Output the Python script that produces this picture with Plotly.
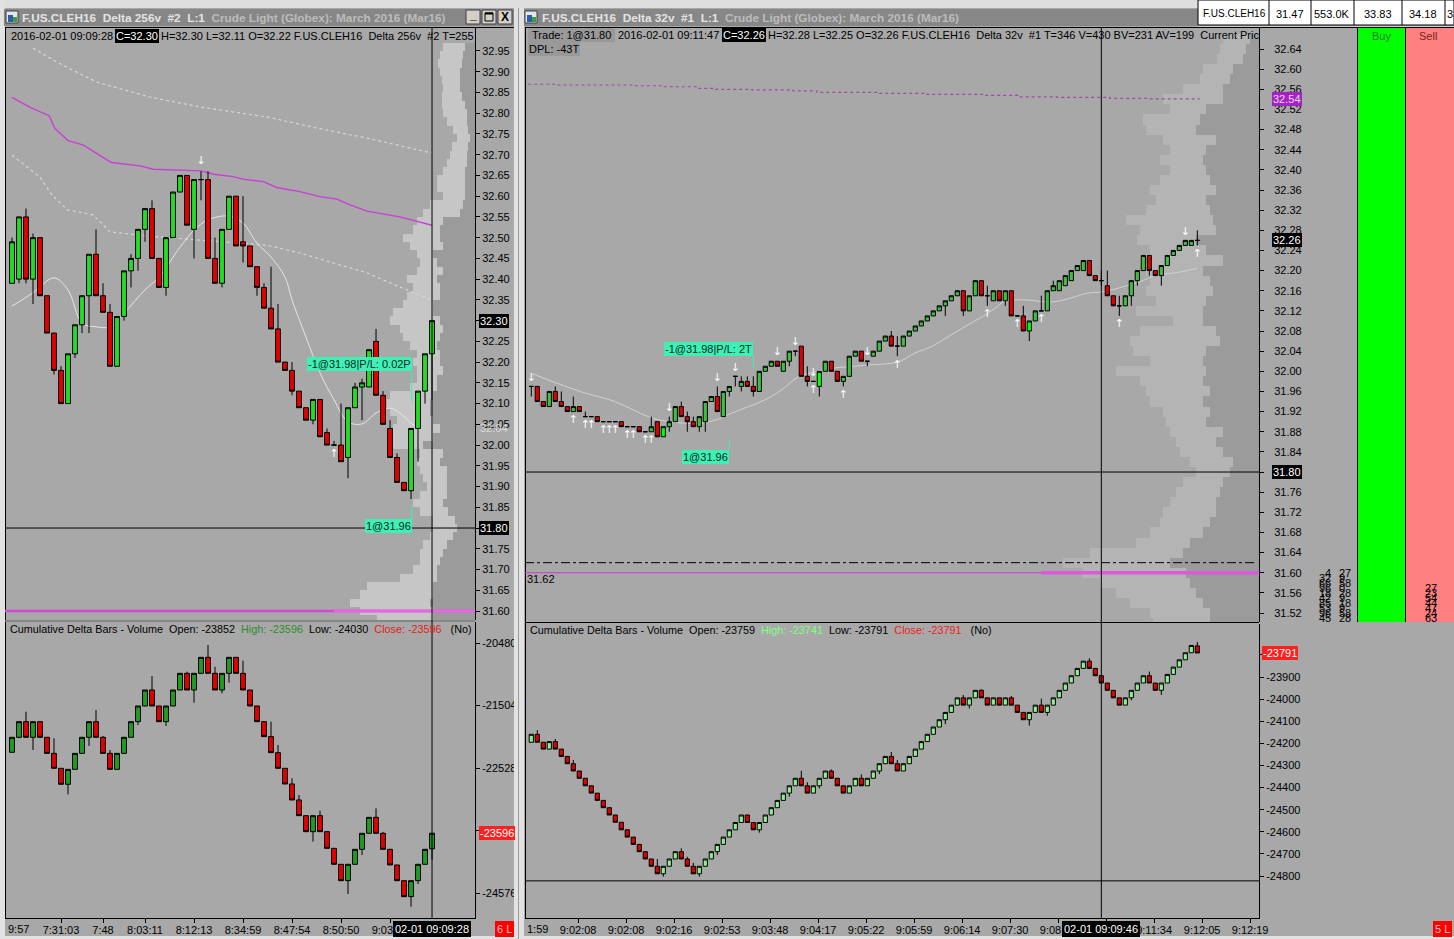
import plotly.graph_objects as go

W, H = 1454, 939          # page design grid (pixels of the reference)
FIG_W = 1463              # figure width; the viewer maps it onto the 1454-px page
FONT = "Liberation Sans, Arial, sans-serif"
ARROW_FONT = "DejaVu Sans"

# ======================= DATA =======================
# ---- Left window: F.US.CLEH16 Delta 256v, price candles ----
l_open = [32.39, 32.40, 32.55, 32.40, 32.50, 32.36, 32.27, 32.18, 32.10, 32.22,
          32.29, 32.36, 32.46, 32.36, 32.32, 32.19, 32.31, 32.42, 32.45, 32.52,
          32.57, 32.45, 32.38, 32.50, 32.61, 32.65, 32.52, 32.64, 32.64, 32.45,
          32.39, 32.52, 32.60, 32.49, 32.48, 32.43, 32.38, 32.33, 32.28, 32.20,
          32.18, 32.13, 32.09, 32.06, 32.11, 32.03, 32.00, 32.00, 31.97, 32.09,
          32.14, 32.14, 32.25, 32.12, 32.04, 31.97, 31.91, 31.89, 32.04, 32.13,
          32.22]
l_high = [32.50, 32.55, 32.57, 32.51, 32.50, 32.36, 32.27, 32.19, 32.22, 32.29,
          32.36, 32.46, 32.52, 32.39, 32.34, 32.31, 32.42, 32.46, 32.52, 32.57,
          32.59, 32.45, 32.50, 32.61, 32.65, 32.65, 32.64, 32.66, 32.66, 32.50,
          32.52, 32.60, 32.60, 32.60, 32.48, 32.43, 32.39, 32.43, 32.34, 32.20,
          32.20, 32.13, 32.09, 32.11, 32.11, 32.04, 32.01, 32.10, 32.09, 32.15,
          32.16, 32.23, 32.28, 32.13, 32.06, 31.98, 31.91, 32.04, 32.13, 32.22,
          32.30]
l_low = [32.39, 32.39, 32.39, 32.34, 32.36, 32.27, 32.17, 32.10, 32.10, 32.21,
         32.27, 32.27, 32.36, 32.32, 32.19, 32.19, 32.30, 32.38, 32.42, 32.49,
         32.45, 32.38, 32.36, 32.50, 32.61, 32.53, 32.45, 32.59, 32.45, 32.39,
         32.38, 32.52, 32.48, 32.44, 32.43, 32.36, 32.33, 32.28, 32.20, 32.18,
         32.12, 32.09, 32.06, 32.05, 32.02, 32.00, 32.00, 31.96, 31.92, 32.09,
         32.06, 32.14, 32.12, 32.05, 31.97, 31.91, 31.89, 31.87, 31.96, 32.10,
         32.11]
l_close = [32.49, 32.55, 32.40, 32.50, 32.36, 32.27, 32.18, 32.10, 32.22, 32.29,
           32.36, 32.46, 32.36, 32.32, 32.19, 32.31, 32.42, 32.45, 32.52, 32.57,
           32.45, 32.38, 32.50, 32.61, 32.65, 32.53, 32.64, 32.64, 32.45, 32.39,
           32.52, 32.60, 32.48, 32.48, 32.43, 32.38, 32.33, 32.28, 32.20, 32.18,
           32.13, 32.09, 32.06, 32.11, 32.02, 32.00, 32.00, 31.96, 32.09, 32.14,
           32.15, 32.23, 32.12, 32.05, 31.97, 31.91, 31.89, 32.04, 32.13, 32.22,
           32.30]

# VWAP (magenta), moving average (white), std-dev bands (dotted)
l_vwap_idx = [0, 2.6, 5.3, 6.1, 8, 10.2, 14.2, 18.3, 20.2, 27, 28.8, 31.6, 33, 35.9,
              37.8, 41.1, 44, 46.4, 48.3, 50.7, 55.4, 57.3, 60]
l_vwap = [32.838, 32.814, 32.794, 32.764, 32.734, 32.723, 32.681, 32.673, 32.665,
          32.661, 32.653, 32.647, 32.641, 32.635, 32.621, 32.611, 32.599, 32.593,
          32.579, 32.564, 32.550, 32.541, 32.530]
l_ma_idx = [0, 3, 6, 8, 10, 12, 14, 16, 19, 21, 24, 26, 28, 31, 33, 35, 37, 39, 40,
            42, 44, 46, 48, 50, 52, 54, 55.4, 57, 58]
l_ma = [32.335, 32.367, 32.403, 32.374, 32.294, 32.285, 32.285, 32.318, 32.374,
        32.405, 32.477, 32.518, 32.543, 32.552, 32.535, 32.487, 32.453, 32.405,
        32.350, 32.260, 32.174, 32.109, 32.056, 32.051, 32.077, 32.089, 32.077,
        32.053, 32.041]
l_band_up_idx = [3, 6.4, 12.1, 19.7, 26.9, 36.4, 43.6, 50.7, 60]
l_band_up = [32.957, 32.923, 32.875, 32.839, 32.815, 32.791, 32.764, 32.740, 32.704]
l_band_dn_idx = [0, 4, 5.7, 7.9, 11.6, 14, 18.3, 20.7, 36.4, 41.1, 45.9, 50.7, 55.4, 60]
l_band_dn = [32.699, 32.646, 32.603, 32.567, 32.555, 32.514, 32.506, 32.502, 32.482,
             32.463, 32.439, 32.415, 32.381, 32.350]
l_down_idx = [27]
l_up_idx = [46]
l_hline = 31.80
l_magenta = 31.60

# Left volume profile (price level, total, inner)
l_prof_price = [31.58, 31.60, 31.62, 31.64, 31.66, 31.68, 31.70, 31.72, 31.74, 31.76,
                31.78, 31.80, 31.82, 31.84, 31.86, 31.88, 31.90, 31.92, 31.94, 31.96,
                31.98, 32.00, 32.02, 32.04, 32.06, 32.08, 32.10, 32.12, 32.14, 32.16,
                32.18, 32.20, 32.22, 32.24, 32.26, 32.28, 32.30, 32.32, 32.34, 32.36,
                32.38, 32.40, 32.42, 32.44, 32.46, 32.48, 32.50, 32.52, 32.54, 32.56,
                32.58, 32.60, 32.62, 32.64, 32.66, 32.68, 32.70, 32.72, 32.74, 32.76,
                32.78, 32.80, 32.82, 32.84, 32.86, 32.88, 32.90, 32.92, 32.94, 32.96,
                32.98]
l_prof_total = [98, 115, 125, 115, 108, 75, 62, 55, 55, 52,
                45, 42, 42, 55, 62, 55, 48, 52, 55, 58,
                55, 85, 88, 82, 78, 85, 88, 85, 65, 58,
                58, 62, 58, 65, 72, 75, 85, 82, 72, 68,
                62, 68, 58, 55, 58, 65, 72, 62, 58, 52,
                45, 32, 38, 38, 32, 28, 25, 23, 18, 22,
                28, 32, 33, 33, 32, 33, 35, 37, 35, 32,
                0]
l_prof_inner = [42, 42, 45, 42, 42, 38, 38, 35, 32, 28,
                22, 18, 20, 27, 32, 28, 28, 28, 28, 35,
                32, 52, 42, 35, 42, 45, 45, 42, 38, 38,
                32, 35, 35, 38, 35, 32, 35, 42, 42, 35,
                35, 38, 32, 38, 42, 32, 35, 35, 32, 15,
                12, 10, 10, 10, 10, 8, 8, 7, 5, 7,
                8, 8, 10, 13, 15, 15, 15, 13, 12, 10,
                0]

# ---- Left cumulative delta bars ----
ld_open = [-22271, -22025, -21769, -22025, -21769, -22025, -22288, -22533, -22795, -22550,
           -22288, -22025, -21769, -22025, -22288, -22550, -22288, -22025, -21769, -21512,
           -21250, -21512, -21769, -21512, -21250, -20977, -21250, -20977, -20715, -20977,
           -21250, -20977, -20715, -20977, -21250, -21512, -21769, -22014, -22277, -22533,
           -22790, -23052, -23309, -23571, -23309, -23571, -23844, -24106, -24374, -24106,
           -23860, -23598, -23336, -23598, -23860, -24117, -24374, -24636, -24374, -24106,
           -23852]
ld_high = [-22025, -21769, -21605, -21769, -21769, -22025, -22042, -22533, -22550, -22288,
           -22025, -21769, -21578, -22004, -22233, -22288, -22025, -21769, -21512, -21250,
           -21021, -21512, -21512, -21250, -20977, -20950, -20977, -20715, -20513, -20868,
           -20977, -20715, -20715, -20770, -21250, -21512, -21769, -21769, -22151, -22533,
           -22697, -22970, -23309, -23309, -23227, -23571, -23844, -24106, -24106, -23860,
           -23598, -23336, -23189, -23576, -23860, -24117, -24374, -24374, -24106, -23860,
           -23596]
ld_low = [-22271, -22040, -22025, -22233, -22025, -22288, -22533, -22795, -22959, -22550,
          -22288, -22166, -22025, -22288, -22550, -22550, -22288, -22025, -21823, -21512,
          -21512, -21769, -21840, -21512, -21250, -21250, -21458, -20977, -20977, -21250,
          -21305, -21130, -20977, -21250, -21512, -21769, -22014, -22277, -22533, -22790,
          -23052, -23309, -23571, -23735, -23571, -23844, -24106, -24374, -24592, -24106,
          -23953, -23598, -23598, -23860, -24117, -24374, -24636, -24800, -24429, -24106,
          -24030]
ld_close = [-22025, -21769, -22025, -21769, -22025, -22288, -22533, -22795, -22550, -22288,
            -22025, -21769, -22025, -22288, -22550, -22288, -22025, -21769, -21512, -21250,
            -21512, -21769, -21512, -21250, -20977, -21250, -20977, -20715, -20977, -21250,
            -20977, -20715, -20977, -21250, -21512, -21769, -22014, -22277, -22533, -22790,
            -23052, -23309, -23571, -23309, -23571, -23844, -24106, -24374, -24106, -23860,
            -23598, -23336, -23598, -23860, -24117, -24374, -24636, -24374, -24106, -23860,
            -23596]

l_price_ticks = [31.60, 31.65, 31.70, 31.75, 31.80, 31.85, 31.90, 31.95, 32.00, 32.05,
                 32.10, 32.15, 32.20, 32.25, 32.30, 32.35, 32.40, 32.45, 32.50, 32.55,
                 32.60, 32.65, 32.70, 32.75, 32.80, 32.85, 32.90, 32.95]
ld_ticks = [-20480, -21504, -22528, -23552, -24576]
l_time_pos = [7, 13, 19, 26, 33, 40, 47, 54]
l_time_lbl = ["7:31:03", "7:48", "8:03:11", "8:12:13", "8:34:59", "8:47:54", "8:50:50", "9:03:27"]

# ---- Right window: F.US.CLEH16 Delta 32v, price candles ----
r_open = [31.97, 31.97, 31.94, 31.93, 31.96, 31.94, 31.93, 31.92, 31.93, 31.91,
          31.91, 31.91, 31.90, 31.90, 31.90, 31.90, 31.89, 31.89, 31.89, 31.88,
          31.88, 31.90, 31.87, 31.89, 31.90, 31.93, 31.91, 31.90, 31.89, 31.90,
          31.94, 31.95, 31.91, 31.96, 31.99, 31.97, 31.98, 31.97, 31.96, 32.00,
          32.01, 32.02, 32.00, 32.02, 32.04, 32.05, 31.99, 31.98, 31.97, 32.00,
          32.02, 32.00, 31.98, 31.99, 32.03, 32.04, 32.02, 32.03, 32.04, 32.06,
          32.07, 32.05, 32.05, 32.07, 32.08, 32.09, 32.10, 32.11, 32.12, 32.13,
          32.14, 32.15, 32.16, 32.12, 32.15, 32.18, 32.15, 32.14, 32.16, 32.14,
          32.16, 32.11, 32.11, 32.08, 32.10, 32.12, 32.12, 32.16, 32.16, 32.17,
          32.18, 32.20, 32.20, 32.22, 32.19, 32.18, 32.17, 32.15, 32.13, 32.13,
          32.15, 32.18, 32.20, 32.23, 32.20, 32.19, 32.21, 32.23, 32.24, 32.25,
          32.25, 32.26]
r_high = [31.97, 31.97, 31.94, 31.96, 31.97, 31.96, 31.93, 31.95, 31.93, 31.92,
          31.91, 31.91, 31.90, 31.90, 31.90, 31.90, 31.89, 31.89, 31.89, 31.88,
          31.91, 31.90, 31.89, 31.91, 31.93, 31.94, 31.92, 31.91, 31.91, 31.94,
          31.95, 31.97, 31.96, 31.97, 31.99, 31.99, 31.99, 31.99, 32.00, 32.01,
          32.02, 32.02, 32.02, 32.04, 32.04, 32.05, 32.01, 31.98, 32.00, 32.02,
          32.02, 32.00, 31.99, 32.03, 32.04, 32.04, 32.02, 32.04, 32.06, 32.07,
          32.08, 32.07, 32.07, 32.08, 32.09, 32.10, 32.11, 32.12, 32.13, 32.14,
          32.15, 32.16, 32.16, 32.15, 32.18, 32.18, 32.17, 32.16, 32.16, 32.16,
          32.16, 32.11, 32.13, 32.10, 32.12, 32.15, 32.16, 32.18, 32.18, 32.19,
          32.20, 32.21, 32.22, 32.22, 32.19, 32.20, 32.20, 32.15, 32.15, 32.15,
          32.18, 32.20, 32.23, 32.23, 32.20, 32.21, 32.23, 32.24, 32.25, 32.26,
          32.26, 32.28]
r_low = [31.95, 31.94, 31.93, 31.93, 31.94, 31.93, 31.92, 31.92, 31.92, 31.91,
         31.91, 31.90, 31.90, 31.90, 31.90, 31.89, 31.89, 31.89, 31.88, 31.88,
         31.88, 31.87, 31.87, 31.88, 31.90, 31.91, 31.88, 31.89, 31.88, 31.88,
         31.94, 31.92, 31.91, 31.95, 31.97, 31.96, 31.97, 31.95, 31.96, 32.00,
         32.01, 32.01, 32.00, 32.01, 32.03, 31.99, 31.97, 31.98, 31.95, 32.00,
         32.00, 31.98, 31.97, 31.99, 32.03, 32.02, 32.01, 32.03, 32.04, 32.06,
         32.05, 32.03, 32.05, 32.07, 32.08, 32.09, 32.10, 32.11, 32.12, 32.11,
         32.14, 32.15, 32.11, 32.12, 32.15, 32.15, 32.13, 32.14, 32.14, 32.13,
         32.11, 32.11, 32.08, 32.06, 32.10, 32.12, 32.12, 32.16, 32.16, 32.17,
         32.18, 32.20, 32.20, 32.19, 32.18, 32.17, 32.15, 32.13, 32.11, 32.13,
         32.13, 32.17, 32.20, 32.19, 32.19, 32.17, 32.21, 32.23, 32.24, 32.25,
         32.25, 32.25]
r_close = [31.97, 31.94, 31.93, 31.96, 31.94, 31.93, 31.92, 31.93, 31.92, 31.91,
           31.91, 31.90, 31.90, 31.90, 31.90, 31.89, 31.89, 31.89, 31.88, 31.88,
           31.89, 31.87, 31.89, 31.90, 31.93, 31.91, 31.90, 31.89, 31.91, 31.94,
           31.95, 31.92, 31.96, 31.97, 31.99, 31.98, 31.97, 31.96, 32.00, 32.01,
           32.02, 32.01, 32.02, 32.04, 32.04, 31.99, 31.98, 31.98, 32.00, 32.02,
           32.00, 31.98, 31.99, 32.03, 32.04, 32.02, 32.02, 32.04, 32.06, 32.07,
           32.05, 32.05, 32.07, 32.08, 32.09, 32.10, 32.11, 32.12, 32.13, 32.14,
           32.15, 32.16, 32.12, 32.15, 32.18, 32.15, 32.15, 32.16, 32.14, 32.16,
           32.11, 32.11, 32.08, 32.10, 32.12, 32.12, 32.16, 32.17, 32.18, 32.19,
           32.20, 32.21, 32.22, 32.19, 32.18, 32.18, 32.15, 32.13, 32.13, 32.15,
           32.18, 32.20, 32.23, 32.20, 32.19, 32.21, 32.23, 32.24, 32.25, 32.26,
           32.26, 32.26]
r_bright_idx = [22, 48, 83]

r_ma_idx = [0, 2.8, 8.4, 13.9, 19.5, 22.8, 27.8, 30.6, 33.4, 36.2, 38.9, 41.7, 44.5,
            47.3, 50.1, 52.8, 55.6, 61.2, 63.9, 66.7, 69.5, 72.3, 75.1, 77.3, 78.7,
            81.4, 87, 89.8, 92.6, 95.3, 101.4, 104.2, 107, 110.9]
r_ma = [31.996, 31.983, 31.959, 31.940, 31.910, 31.900, 31.897, 31.903, 31.917,
        31.930, 31.943, 31.963, 31.989, 31.999, 32.006, 32.009, 32.012, 32.019,
        32.036, 32.049, 32.069, 32.089, 32.108, 32.125, 32.138, 32.142, 32.138,
        32.145, 32.155, 32.158, 32.178, 32.191, 32.195, 32.204]
r_vwap_idx = [-0.5, 4.5, 17.3, 21.8, 27.6, 30.6, 36.4, 43.6, 47.6, 57.6, 65.6, 75.6,
              81.5, 87.6, 96.4, 102.6, 111.4]
r_vwap = [32.570, 32.5685, 32.567, 32.565, 32.562, 32.560, 32.559, 32.557, 32.554,
          32.552, 32.550, 32.548, 32.545, 32.544, 32.542, 32.541, 32.541]
r_down_idx = [0, 23, 31, 34, 41, 44, 47, 56, 109]
r_up_idx = [7, 9, 10, 12, 13, 14, 16, 17, 19, 20, 47, 52, 61, 76, 81, 85, 98, 111]
r_hline = 31.80
r_dashdot = 31.62
r_magenta = 31.60

# Right volume profile
r_prof_price = [31.50, 31.52, 31.54, 31.56, 31.58, 31.60, 31.62, 31.64, 31.66, 31.68,
                31.70, 31.72, 31.74, 31.76, 31.78, 31.80, 31.82, 31.84, 31.86, 31.88,
                31.90, 31.92, 31.94, 31.96, 31.98, 32.00, 32.02, 32.04, 32.06, 32.08,
                32.10, 32.12, 32.14, 32.16, 32.18, 32.20, 32.22, 32.24, 32.26, 32.28,
                32.30, 32.32, 32.34, 32.36, 32.38, 32.40, 32.42, 32.44, 32.46, 32.48,
                32.50, 32.52, 32.54, 32.56, 32.58, 32.60, 32.62, 32.64, 32.66]
r_prof_total = [106, 109, 129, 143, 159, 176, 196, 169, 123, 109,
                99, 96, 89, 83, 76, 63, 69, 79, 83, 89,
                93, 96, 109, 113, 119, 143, 109, 126, 129, 119,
                86, 123, 103, 113, 109, 113, 119, 109, 122, 119,
                133, 113, 103, 109, 99, 89, 99, 89, 96, 113,
                116, 89, 96, 76, 59, 56, 42, 39, 36]
r_prof_inner = [49, 49, 56, 63, 69, 73, 89, 76, 69, 56,
                49, 43, 43, 39, 36, 29, 26, 36, 43, 36,
                53, 49, 56, 49, 56, 53, 56, 53, 39, 43,
                56, 56, 53, 46, 49, 56, 36, 53, 63, 43,
                46, 49, 53, 43, 49, 53, 56, 53, 43, 63,
                59, 53, 36, 36, 29, 26, 16, 13, 9]

# ---- Right cumulative delta bars ----
rd_open = [-24195, -24159, -24195, -24226, -24192, -24226, -24259, -24292, -24325, -24358,
           -24392, -24425, -24458, -24491, -24524, -24557, -24591, -24624, -24657, -24690,
           -24723, -24756, -24790, -24756, -24723, -24690, -24723, -24756, -24790, -24756,
           -24723, -24690, -24657, -24624, -24591, -24558, -24524, -24558, -24591, -24558,
           -24524, -24491, -24458, -24425, -24392, -24358, -24392, -24425, -24392, -24358,
           -24325, -24358, -24392, -24425, -24392, -24358, -24392, -24358, -24325, -24292,
           -24259, -24292, -24325, -24292, -24259, -24226, -24192, -24159, -24126, -24093,
           -24060, -24027, -23994, -24027, -23994, -23960, -23994, -24027, -23994, -24027,
           -23994, -24027, -24060, -24093, -24060, -24027, -24060, -24027, -23994, -23960,
           -23927, -23894, -23861, -23828, -23861, -23894, -23927, -23960, -23994, -24027,
           -23994, -23960, -23927, -23894, -23927, -23960, -23927, -23888, -23855, -23822,
           -23790, -23759]
rd_close = [-24159, -24195, -24226, -24192, -24226, -24259, -24292, -24325, -24358, -24392,
            -24425, -24458, -24491, -24524, -24557, -24591, -24624, -24657, -24690, -24723,
            -24756, -24790, -24756, -24723, -24690, -24723, -24756, -24790, -24756, -24723,
            -24690, -24657, -24624, -24591, -24558, -24524, -24558, -24591, -24558, -24524,
            -24491, -24458, -24425, -24392, -24358, -24392, -24425, -24392, -24358, -24325,
            -24358, -24392, -24425, -24392, -24358, -24392, -24358, -24325, -24292, -24259,
            -24292, -24325, -24292, -24259, -24226, -24192, -24159, -24126, -24093, -24060,
            -24027, -23994, -24027, -23994, -23960, -23994, -24027, -23994, -24027, -23994,
            -24027, -24060, -24093, -24060, -24027, -24060, -24027, -23994, -23960, -23927,
            -23894, -23861, -23828, -23861, -23894, -23927, -23960, -23994, -24027, -23994,
            -23960, -23927, -23894, -23927, -23960, -23927, -23888, -23855, -23822, -23790,
            -23757, -23791]
rd_upper_wick = {1: -24140, 4: -24180, 7: -24275, 21: -24723, 25: -24675, 26: -24713,
                 27: -24740, 45: -24324, 46: -24376, 50: -24318, 55: -24340, 60: -24239,
                 61: -24275, 72: -23981, 75: -23955, 80: -23986, 85: -23998, 93: -23815,
                 103: -23875, 111: -23741}
rd_lower_wick = {22: -24803, 28: -24803, 31: -24705, 38: -24604, 43: -24441, 48: -24404,
                 58: -24339, 69: -24113, 73: -24042, 83: -24120, 86: -24075, 100: -24005,
                 105: -23981}
rd_hline = -24822

r_price_ticks = [31.52, 31.56, 31.60, 31.64, 31.68, 31.72, 31.76, 31.80, 31.84, 31.88,
                 31.92, 31.96, 32.00, 32.04, 32.08, 32.12, 32.16, 32.20, 32.24, 32.28,
                 32.32, 32.36, 32.40, 32.44, 32.48, 32.52, 32.56, 32.60, 32.64]
rd_ticks = [-23800, -23900, -24000, -24100, -24200, -24300, -24400, -24500, -24600,
            -24700, -24800]
r_time_pos = [7.8, 15.8, 23.8, 31.8, 39.8, 47.8, 55.8, 63.8, 71.8, 79.8, 87.8, 95.8,
              103.8, 111.8, 119.8]
r_time_lbl = ["9:02:08", "9:02:08", "9:02:16", "9:02:53", "9:03:48", "9:04:17", "9:05:22",
              "9:05:59", "9:06:14", "9:07:30", "9:08:31", "9:09:40", "9:11:34", "9:12:05",
              "9:12:19"]

# DOM ladder (price level -> sizes)
dom_levels = [31.60, 31.59, 31.58, 31.57, 31.56, 31.55, 31.54, 31.53, 31.52, 31.51]
dom_col_a = [4, 32, 66, 96, 18, 42, 85, 53, 96, 45]
dom_col_b = [27, 9, 58, 0, 28, 9, 18, 9, 58, 28]
dom_ask_levels = [31.57, 31.56, 31.55, 31.54, 31.53, 31.52, 31.51]
dom_ask = [27, 23, 54, 44, 47, 24, 63]

quote_cells = ["F.US.CLEH16", "31.47", "553.0K", "33.83", "34.18", "3"]

# ======================= FIGURE =======================
def X(p):
    return p / W


def Y(p):
    return 1 - p / H


fig = go.Figure()

l_idx = list(range(len(l_open)))
r_idx = list(range(len(r_open)))
rd_high = [rd_upper_wick.get(i, max(rd_open[i], rd_close[i])) for i in r_idx]
rd_low = [rd_lower_wick.get(i, min(rd_open[i], rd_close[i])) for i in r_idx]


def candle(x, o, h, lo, c, inc, dec, xa, ya):
    return go.Candlestick(
        x=x, open=o, high=h, low=lo, close=c, xaxis=xa, yaxis=ya,
        increasing=dict(fillcolor=inc, line=dict(color="#000000", width=1)),
        decreasing=dict(fillcolor=dec, line=dict(color="#000000", width=1)),
        whiskerwidth=0, hoverinfo="skip", showlegend=False)


def prof(price, vals, color, xa, ya):
    return go.Bar(x=vals, y=price, orientation="h", width=0.02, xaxis=xa, yaxis=ya,
                  marker=dict(color=color, line=dict(width=0)), hoverinfo="skip",
                  showlegend=False)


def line(xs, ys, color, width, xa, ya, dash="solid", shape="linear"):
    return go.Scatter(x=xs, y=ys, mode="lines", xaxis=xa, yaxis=ya,
                      line=dict(color=color, width=width, dash=dash, shape=shape),
                      hoverinfo="skip", showlegend=False)


def arrows(xs, ys, sym, xa, ya):
    return go.Scatter(x=xs, y=ys, mode="text", text=[sym] * len(xs), xaxis=xa, yaxis=ya,
                      textfont=dict(family=ARROW_FONT, size=11, color="#ffffff"),
                      hoverinfo="skip", showlegend=False)


# ---- left price panel ----
fig.add_trace(prof(l_prof_price, l_prof_total, "#c6c6c6", "x", "y"))
fig.add_trace(prof(l_prof_price, l_prof_inner, "#9b9b9b", "x", "y"))
fig.add_trace(line(l_band_up_idx, l_band_up, "#d6d6d6", 1.2, "x3", "y", dash="dot"))
fig.add_trace(line(l_band_dn_idx, l_band_dn, "#d6d6d6", 1.2, "x3", "y", dash="dot"))
fig.add_trace(line(l_vwap_idx, l_vwap, "#c93fd6", 1.4, "x3", "y"))
fig.add_trace(line(l_ma_idx, l_ma, "#e6e6e6", 1, "x3", "y", shape="spline"))
fig.add_trace(candle(l_idx, l_open, l_high, l_low, l_close, "#22dd22", "#e00000", "x7", "y"))
fig.add_trace(arrows(l_down_idx, [l_high[i] + 0.025 for i in l_down_idx], "↓", "x7", "y"))
fig.add_trace(arrows(l_up_idx, [l_low[i] - 0.022 for i in l_up_idx], "↑", "x7", "y"))

# ---- left delta panel ----
fig.add_trace(candle(l_idx, ld_open, ld_high, ld_low, ld_close, "#229b22", "#e00000", "x2", "y2"))

# ---- right price panel ----
fig.add_trace(prof(r_prof_price, r_prof_total, "#b4b4b4", "x4", "y4"))
fig.add_trace(prof(r_prof_price, r_prof_inner, "#9b9b9b", "x4", "y4"))
fig.add_trace(line(r_vwap_idx, r_vwap, "#a04aa8", 1.2, "x5", "y4", dash="dot", shape="hv"))
fig.add_trace(line(r_ma_idx, r_ma, "#d2d2d2", 1, "x5", "y4", shape="spline"))
r_norm = [i for i in r_idx if i not in r_bright_idx]
fig.add_trace(candle(r_norm, [r_open[i] for i in r_norm], [r_high[i] for i in r_norm],
                     [r_low[i] for i in r_norm], [r_close[i] for i in r_norm],
                     "#3fbf3f", "#dd0000", "x8", "y4"))
fig.add_trace(candle(r_bright_idx, [r_open[i] for i in r_bright_idx],
                     [r_high[i] for i in r_bright_idx], [r_low[i] for i in r_bright_idx],
                     [r_close[i] for i in r_bright_idx], "#00ff00", "#dd0000", "x8", "y4"))
fig.add_trace(arrows(r_down_idx, [r_high[i] + 0.017 for i in r_down_idx], "↓", "x8", "y4"))
fig.add_trace(arrows(r_up_idx, [r_low[i] - 0.017 for i in r_up_idx], "↑", "x8", "y4"))

# ---- right delta panel ----
fig.add_trace(candle(r_idx, rd_open, rd_high, rd_low, rd_close, "#90ee90", "#dd0000", "x6", "y6"))

# ======================= AXES =======================
LX = [X(5), X(475)]
RX = [X(525), X(1259)]
L_IDX = [-1.0, 66.14]
R_IDX = [-1.05, 121.28]
tickfont = dict(family=FONT, size=11, color="#000000")

# tick values whose labels sit under a value box are left blank
covered = {l_hline, l_close[-1], ld_ticks[3], r_hline, rd_ticks[0]}


def lbl(v, fmt):
    return "" if v in covered else fmt(v)


def val_axis(domain, rng, anchor, tickvals, ticktext, standoff):
    return dict(domain=domain, range=rng, anchor=anchor, side="right", tickmode="array",
                tickvals=tickvals, ticktext=ticktext, ticks="outside", ticklen=4,
                tickwidth=1, tickcolor="#000000", showline=True, linecolor="#000000",
                linewidth=1, showgrid=False, zeroline=False, tickfont=tickfont,
                ticklabelstandoff=standoff, fixedrange=True)


def hidden_x(rng, **kw):
    d = dict(range=rng, visible=False, fixedrange=True, showgrid=False, zeroline=False,
             rangeslider=dict(visible=False))
    d.update(kw)
    return d


def time_axis(domain, rng, anchor, pos, lbls):
    return dict(domain=domain, range=rng, anchor=anchor, tickmode="array", tickvals=pos,
                ticktext=lbls, ticks="outside", ticklen=4, tickcolor="#000000",
                showline=True, linecolor="#000000", linewidth=1, showgrid=False,
                zeroline=False, tickfont=tickfont, fixedrange=True, ticklabelstandoff=-2,
                rangeslider=dict(visible=False))


f2 = lambda v: f"{v:.2f}"
fig.update_layout(
    xaxis=hidden_x([470, 0], domain=LX, anchor="y"),
    xaxis3=hidden_x(L_IDX, overlaying="x", anchor="y"),
    xaxis7=hidden_x(L_IDX, overlaying="x", anchor="y"),
    yaxis=val_axis([Y(620), Y(28)], [31.5783, 33.0054], "x", l_price_ticks,
                   [lbl(t, f2) for t in l_price_ticks], 0),
    xaxis2=time_axis(LX, L_IDX, "y2", l_time_pos, l_time_lbl),
    yaxis2=val_axis([Y(918), Y(622)], [-24985.6, -20136], "x2", ld_ticks,
                    [lbl(t, str) for t in ld_ticks], 0),
    xaxis4=hidden_x([734, 0], domain=RX, anchor="y4"),
    xaxis5=hidden_x(R_IDX, overlaying="x4", anchor="y4"),
    xaxis8=hidden_x(R_IDX, overlaying="x4", anchor="y4"),
    yaxis4=val_axis([Y(622), Y(28)], [31.5022, 32.6817], "x4", r_price_ticks,
                    [lbl(t, f2) for t in r_price_ticks], 8),
    xaxis6=time_axis(RX, R_IDX, "y6", r_time_pos, r_time_lbl),
    yaxis6=val_axis([Y(918), Y(624)], [-24990, -23660], "x6", rd_ticks,
                    [lbl(t, str) for t in rd_ticks], 0),
)

fig.update_layout(
    width=FIG_W, height=H, autosize=False, margin=dict(l=0, r=0, t=0, b=0, pad=0),
    paper_bgcolor="#a8a8a8", plot_bgcolor="#a8a8a8",
    showlegend=False, hovermode=False, dragmode=False,
    barmode="overlay", bargap=0, boxgap=0.3, boxgroupgap=0,
    font=dict(family=FONT, size=11, color="#000000"),
)


# ======================= SHAPES =======================
def rect(x0, y0, x1, y1, fill, line_color=None, layer="below", lw=1):
    fig.add_shape(type="rect", xref="paper", yref="paper", x0=X(x0), x1=X(x1),
                  y0=Y(y1), y1=Y(y0), fillcolor=fill, layer=layer,
                  line=dict(width=0) if line_color is None else dict(color=line_color, width=lw))


def pline(x0, y0, x1, y1, color, width=1, layer="above", dash="solid"):
    fig.add_shape(type="line", xref="paper", yref="paper", x0=X(x0), x1=X(x1),
                  y0=Y(y0), y1=Y(y1), line=dict(color=color, width=width, dash=dash),
                  layer=layer)


def dline(xref, yref, x0, y0, x1, y1, color, width=1, dash="solid", layer="above"):
    fig.add_shape(type="line", xref=xref, yref=yref, x0=x0, x1=x1, y0=y0, y1=y1,
                  line=dict(color=color, width=width, dash=dash), layer=layer)


# window chrome
rect(0, 0, 1454, 8, "#dedede")
rect(0, 0, 5, 939, "#e2e2e2")
rect(0, 936, 1454, 939, "#e2e2e2", layer="above")
rect(514, 8, 524, 939, "#e2e2e2", layer="above")
pline(518.5, 8, 518.5, 939, "#9a9a9a")
rect(4, 9, 514, 26, "#878787")
rect(523, 9, 1198, 26, "#878787")
rect(1198, 26, 1454, 28, "#d0d0d0")
# title icons
rect(6, 11, 18, 23, "#e6e6e6", "#404040")
rect(8, 15, 13, 22, "#2a5db0")
rect(13, 17, 17, 22, "#3aa13a")
rect(525, 11, 537, 23, "#e6e6e6", "#404040")
rect(527, 15, 532, 22, "#2a5db0")
rect(532, 17, 536, 22, "#3aa13a")
# window buttons
for bx in (466, 482, 498):
    rect(bx, 10, bx + 14, 24, "#d4d0c8", "#404040")
rect(485, 13, 493, 21, "rgba(0,0,0,0)", "#000000", layer="above")
pline(485, 13.5, 493, 13.5, "#000000", 2)
# quote table
rect(1198, 0, 1454, 25, "#ffffff", "#000000")
for cx in (1269, 1311, 1354, 1402, 1445):
    pline(cx, 0, cx, 25, "#000000")
# DOM buy/sell columns
rect(1358, 28, 1405, 622, "#00ff00")
rect(1406, 28, 1454, 622, "#ff8080")
pline(1357.5, 28, 1357.5, 622, "#000000")
pline(1405.5, 28, 1405.5, 622, "#000000")

# pane frames
pline(5, 27.5, 514, 27.5, "#000000")
pline(525, 27.5, 1454, 27.5, "#000000")
pline(5.5, 27.5, 5.5, 918, "#000000")
pline(525.5, 27.5, 525.5, 918, "#000000")
pline(5, 621, 475, 621, "#7c7c7c", 1.5)
pline(525, 622.5, 1259, 622.5, "#000000")

# horizontal levels on price panels
dline("paper", "y", X(5), l_hline, X(475), l_hline, "#000000")
dline("paper", "y", X(5), l_magenta, X(475), l_magenta, "#d24ad2", 2.5)
dline("x7", "y", 46, l_magenta, L_IDX[1], l_magenta, "#e666e6", 3)
dline("paper", "y4", X(525), r_hline, X(1259), r_hline, "#000000")
dline("paper", "y4", X(525), r_dashdot, X(1255), r_dashdot, "#000000", 1, "dashdot")
dline("paper", "y4", X(525), r_magenta, X(1259), r_magenta, "#c43cc4", 1.2)
dline("x8", "y4", 85, r_magenta, R_IDX[1], r_magenta, "#dc58dc", 3.5)
dline("paper", "y6", X(525), rd_hline, X(1259), rd_hline, "#000000")

# crosshair verticals
fig.add_shape(type="line", xref="x2", yref="paper", x0=60, x1=60, y0=Y(918), y1=Y(28),
              line=dict(color="#000000", width=1), layer="above")
fig.add_shape(type="line", xref="x6", yref="paper", x0=95, x1=95, y0=Y(918), y1=Y(28),
              line=dict(color="#000000", width=1), layer="above")

# trade tag connectors
TAG = "#3ef0b6"
dline("x7", "y", 57.1, 32.175, 57.1, 32.105, TAG)
dline("x7", "y", 57.1, 31.855, 57.1, 31.822, TAG)
dline("x8", "y4", 37.0, 32.030, 37.0, 32.006, TAG)
dline("x8", "y4", 33.0, 31.864, 33.0, 31.845, TAG)


# ======================= TEXT =======================
def note(x, y, text, color="#000000", size=11, bg=None, xanchor="left", yanchor="middle",
         xref="paper", yref="paper", family=FONT, pad=0):
    fig.add_annotation(x=x, y=y, xref=xref, yref=yref, text=text, showarrow=False,
                       xanchor=xanchor, yanchor=yanchor,
                       font=dict(family=family, size=size, color=color),
                       bgcolor=bg if bg else "rgba(0,0,0,0)", borderpad=pad, borderwidth=0)


NB = "\u00a0"
# title bars
note(X(22), Y(17.5),
     f"<b><span style='color:#e4e4e4'>F.US.CLEH16{NB} Delta 256v{NB} #2{NB} L:1</span>{NB} "
     f"<span style='color:#bcbcbc'>Crude Light (Globex): March 2016 (Mar16)</span></b>",
     size=11.8)
note(X(542), Y(17.5),
     f"<b><span style='color:#e4e4e4'>F.US.CLEH16{NB} Delta 32v{NB} #1{NB} L:1</span>{NB} "
     f"<span style='color:#bcbcbc'>Crude Light (Globex): March 2016 (Mar16)</span></b>",
     size=11.8)
note(X(473), Y(15), "<b>_</b>", xanchor="center", size=12)
note(X(505), Y(17), "<b>X</b>", xanchor="center", size=12)

# quote table
for s, cx, fs in zip(quote_cells[:5], (1234, 1290, 1332, 1378, 1423), (10, 11, 11, 11, 11)):
    note(X(cx), Y(13.5), s, xanchor="center", size=fs)
note(X(1447), Y(13.5), quote_cells[5], size=11)

# left headers
note(X(11), Y(36), "2016-02-01 09:09:28")
note(X(115), Y(36), f"C={l_close[-1]:.2f}", color="#ffffff", bg="#000000", pad=1)
note(X(161), Y(36),
     f"H={l_high[-1]:.2f} L={l_low[-1]:.2f} O={l_open[-1]:.2f} F.US.CLEH16{NB} Delta 256v{NB} #2 T=255")
note(X(10), Y(629),
     f"Cumulative Delta Bars - Volume{NB} Open: {ld_open[-1]}{NB} "
     f"<span style='color:#2e8b2e'>High: {ld_high[-1]}</span>{NB} Low: {ld_low[-1]}{NB} "
     f"<span style='color:#e02020'>Close: {ld_close[-1]}</span>{NB}{NB} (No)", size=10.8)

# right headers
note(X(528), Y(35), f"{NB}Trade: 1@31.80{NB}", bg="#999999", pad=1)
note(X(618), Y(35), "2016-02-01 09:11:47")
note(X(722), Y(35), f"C={r_close[-1]:.2f}", color="#ffffff", bg="#000000", pad=1)
note(X(768), Y(35),
     f"H={r_high[-1]:.2f} L={r_low[-1]:.2f} O={r_open[-1]:.2f} F.US.CLEH16{NB} Delta 32v{NB} "
     f"#1 T=346 V=430 BV=231 AV=199{NB} Current Pric")
note(X(528), Y(49), "DPL: -43T", bg="#999999", pad=1)
note(X(530), Y(630),
     f"Cumulative Delta Bars - Volume{NB} Open: {rd_open[-1]}{NB} "
     f"<span style='color:#80ff80'>High: {rd_high[-1]}</span>{NB} Low: {rd_low[-1]}{NB} "
     f"<span style='color:#f02020'>Close: {rd_close[-1]}</span>{NB}{NB} (No)", size=10.8)

# trade tags
note(57.1, 32.195, "-1@31.98|P/L: 0.02P", color="#0b2a1c", bg=TAG, xanchor="right",
     xref="x7", yref="y", pad=1)
note(57.1, 31.806, "1@31.96", color="#0b2a1c", bg=TAG, xanchor="right", xref="x7",
     yref="y", pad=1)
note(37.0, 32.044, "-1@31.98|P/L: 2T", color="#0b2a1c", bg=TAG, xanchor="right",
     xref="x8", yref="y4", pad=1)
note(33.0, 31.829, "1@31.96", color="#0b2a1c", bg=TAG, xanchor="right", xref="x8",
     yref="y4", pad=1)
note(X(527), 31.60, "31.62", yanchor="top", yref="y4")

# axis value boxes
note(X(479), l_close[-1], f"{l_close[-1]:.2f}", color="#ffffff", bg="#000000", yref="y", pad=1)
note(X(479), l_hline, f"{l_hline:.2f}", color="#ffffff", bg="#000000", yref="y", pad=1)
note(X(480), 32.04, "32.04", color="#d8d8d8", yref="y")
note(X(479), ld_close[-1], str(ld_close[-1]), color="#ffffff", bg="#ff2020", yref="y2", pad=1)
note(X(1272), r_close[-1], f"{r_close[-1]:.2f}", color="#ffffff", bg="#000000", yref="y4", pad=1)
note(X(1272), r_hline, f"{r_hline:.2f}", color="#ffffff", bg="#000000", yref="y4", pad=1)
note(X(1272), r_vwap[-1], f"{r_vwap[-1]:.2f}", color="#f4d8ff", bg="#a323c4", yref="y4", pad=1)
note(X(1262), rd_close[-1], str(rd_close[-1]), color="#ffffff", bg="#ff2020", yref="y6", pad=1)

# time axis extras
note(60, Y(929), "02-01 09:09:28", color="#ffffff", bg="#000000", xanchor="center",
     xref="x2", pad=2)
note(95, Y(929), "02-01 09:09:46", color="#ffffff", bg="#000000", xanchor="center",
     xref="x6", pad=2)
note(X(8), Y(929), "9:57")
note(X(527), Y(929), "1:59")
note(X(504), Y(929), "6 L", color="#ffc0c0", bg="#ff0000", xanchor="center", pad=2)
note(X(1442), Y(929), "5 L", color="#ffc0c0", bg="#ff0000", xanchor="center", pad=2)

# DOM
note(X(1381), Y(36), "Buy", color="#2e7d2e", xanchor="center")
note(X(1428), Y(36), "Sell", color="#7a2020", xanchor="center")
for lv, a, b in zip(dom_levels, dom_col_a, dom_col_b):
    note(X(1331), lv, str(a), xanchor="right", yref="y4")
    note(X(1339), lv, str(b), xanchor="left", yref="y4")
for lv, a in zip(dom_ask_levels, dom_ask):
    note(X(1437), lv, str(a), xanchor="right", yref="y4")

# page background continues the right-hand strip in case the figure falls short of the edge
page_bg = ("linear-gradient(to bottom, #ffffff 0px, #ffffff 25px, #d0d0d0 25px, #d0d0d0 28px, "
           "#ff8080 28px, #ff8080 622px, #a8a8a8 622px, #a8a8a8 936px, #e2e2e2 936px)")
fig.write_html("out.html", config={"displayModeBar": False, "staticPlot": True,
                                   "responsive": False},
               post_script="document.documentElement.style.margin='0';"
                           "document.body.style.margin='0';"
                           "document.documentElement.style.overflow='hidden';"
                           "document.body.style.overflow='hidden';"
                           f"document.body.style.background='{page_bg}';")
